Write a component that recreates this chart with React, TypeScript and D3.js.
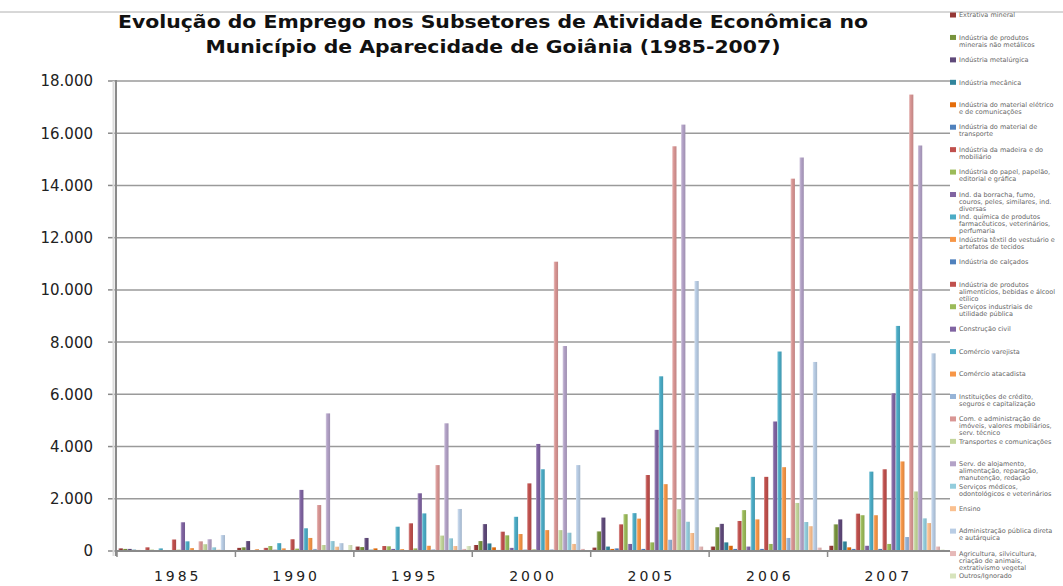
import React from "react";
import * as d3 from "d3";

// anos (categorias do eixo X)
const anos = ["1985", "1990", "1995", "2000", "2005", "2006", "2007"];

// subsetores IBGE (legenda, já quebrada em linhas)
const subsetores: string[][] = [
  ["Extrativa mineral"],
  ["Indústria de produtos", "minerais não metálicos"],
  ["Indústria metalúrgica"],
  ["Indústria mecânica"],
  ["Indústria do material elétrico", "e de comunicações"],
  ["Indústria do material de", "transporte"],
  ["Indústria da madeira e do", "mobiliário"],
  ["Indústria do papel, papelão,", "editorial e gráfica"],
  ["Ind. da borracha, fumo,", "couros, peles, similares, ind.", "diversas"],
  ["Ind. química de produtos", "farmacêuticos, veterinários,", "perfumaria"],
  ["Indústria têxtil do vestuário e", "artefatos de tecidos"],
  ["Indústria de calçados"],
  ["Indústria de produtos", "alimentícios, bebidas e álcool", "etílico"],
  ["Serviços industriais de", "utilidade pública"],
  ["Construção civil"],
  ["Comércio varejista"],
  ["Comércio atacadista"],
  ["Instituições de crédito,", "seguros e capitalização"],
  ["Com. e administração de", "imóveis, valores mobiliários,", "serv. técnico"],
  ["Transportes e comunicações"],
  ["Serv. de alojamento,", "alimentação, reparação,", "manutenção, redação"],
  ["Serviços médicos,", "odontológicos e veterinários"],
  ["Ensino"],
  ["Administração pública direta", "e autárquica"],
  ["Agricultura, silvicultura,", "criação de animais,", "extrativismo vegetal"],
  ["Outros/Ignorado"],
];

const cores = [
  "#953735", "#77933C", "#5F497A", "#31859C", "#E46C0A", "#4F81BD",
  "#C0504D", "#9BBB59", "#8064A2", "#4BACC6", "#F79646", "#4F81BD",
  "#C0504D", "#9BBB59", "#8064A2", "#4BACC6", "#F79646", "#95B3D7",
  "#D99694", "#C3D69B", "#B3A2C7", "#93CDDD", "#FAC090", "#B9CDE5",
  "#E6B9B8", "#D7E4BD",
];

// empregos por subsetor, um array por ano (mesma ordem da legenda)
const v1985 = [100, 80, 80, 50, 40, 30, 140, 50, 30, 100, 30, 30, 440, 50, 1100, 370, 110, 20, 370, 260, 450, 140, 50, 610, 20, 10];
const v1990 = [120, 140, 380, 30, 60, 30, 120, 190, 50, 300, 100, 30, 450, 90, 2340, 870, 500, 80, 1760, 230, 5270, 380, 165, 300, 30, 230];
const v1995 = [170, 150, 500, 50, 100, 30, 190, 180, 80, 930, 70, 30, 1060, 100, 2210, 1440, 200, 60, 3290, 590, 4890, 485, 190, 1610, 80, 190];
const v2000 = [230, 380, 1030, 290, 140, 40, 740, 600, 120, 1310, 650, 50, 2590, 60, 4100, 3130, 800, 60, 11080, 800, 7850, 700, 270, 3290, 80, 30];
const v2005 = [130, 750, 1280, 170, 80, 100, 1020, 1410, 270, 1450, 1240, 80, 2910, 330, 4640, 6690, 2560, 430, 15500, 1600, 16330, 1120, 690, 10340, 170, 40];
const v2006 = [170, 910, 1040, 330, 200, 80, 1150, 1565, 170, 2840, 1210, 80, 2840, 270, 4960, 7640, 3210, 500, 14260, 1840, 15070, 1110, 950, 7240, 130, 40];
const v2007 = [200, 1020, 1210, 365, 140, 80, 1430, 1370, 200, 3040, 1370, 80, 3130, 270, 6040, 8620, 3430, 535, 17480, 2280, 15530, 1250, 1070, 7570, 170, 50];

const valoresPorAno = [v1985, v1990, v1995, v2000, v2005, v2006, v2007];

const yTicks = d3.range(0, 18001, 2000);

const fmt = d3.formatLocale({
  decimal: ",",
  thousands: ".",
  grouping: [3],
  currency: ["R$", ""],
}).format(",d");

const FONTE = "'DejaVu Sans', Verdana, sans-serif";

export default function App() {
  const W = 1063;
  const H = 586;

  const x0 = d3.scaleBand<string>().domain(anos).range([117, 946]);
  const x1 = d3
    .scaleBand<number>()
    .domain(d3.range(subsetores.length))
    .range([0, x0.bandwidth()])
    .paddingInner(0.04)
    .paddingOuter(0.35);
  const y = d3.scaleLinear().domain([0, 18000]).range([551, 81]);

  const legendaY = d3
    .scaleLinear()
    .domain([0, subsetores.length - 1])
    .range([15, 576]);

  return (
    <svg
      width={W}
      height={H}
      style={{ position: "absolute", left: 0, top: 0, background: "#fff" }}
      fontFamily={FONTE}
    >
      <defs>
        {cores.map((c, i) => (
          <linearGradient key={i} id={`g${i}`} x1="0" x2="1" y1="0" y2="0">
            <stop offset="0%" stopColor={d3.interpolateRgb(c, "#fff")(0.4)} />
            <stop offset="35%" stopColor={c} />
            <stop offset="100%" stopColor={d3.color(c)!.darker(0.35).formatHex()} />
          </linearGradient>
        ))}
      </defs>

      {/* borda superior do gráfico */}
      <line x1={0} x2={W} y1={12} y2={12} stroke="#b0b0b0" strokeWidth={1} />

      {/* título */}
      <text
        x={493}
        y={28}
        textAnchor="middle"
        fontSize={17}
        fontWeight="bold"
        fill="#111"
        textLength={750}
        lengthAdjust="spacingAndGlyphs"
      >
        Evolução do Emprego nos Subsetores de Atividade Econômica no
      </text>
      <text
        x={493}
        y={53}
        textAnchor="middle"
        fontSize={17}
        fontWeight="bold"
        fill="#111"
        textLength={575}
        lengthAdjust="spacingAndGlyphs"
      >
        Município de Aparecidade de Goiânia (1985-2007)
      </text>

      {/* grade e eixo Y */}
      {yTicks.map((t) => (
        <g key={t}>
          <line x1={116} x2={950} y1={y(t)} y2={y(t)} stroke="#9a9a9a" strokeWidth={1.5} />
          <line x1={108} x2={116} y1={y(t)} y2={y(t)} stroke="#8a8a8a" strokeWidth={1.5} />
          <text x={93} y={y(t)} dy="0.36em" textAnchor="end" fontSize={15} fill="#222">
            {fmt(t)}
          </text>
        </g>
      ))}
      <line x1={116} x2={116} y1={y(18000) - 1} y2={556} stroke="#8a8a8a" strokeWidth={2} />
      <line x1={113.5} x2={113.5} y1={y(18000)} y2={556} stroke="#dcdcdc" strokeWidth={2} />

      {/* barras */}
      {anos.map((ano, a) => (
        <g key={ano} transform={`translate(${x0(ano)},0)`}>
          {valoresPorAno[a].map((v, i) => (
            <rect
              key={i}
              x={x1(i)}
              y={y(v)}
              width={x1.bandwidth()}
              height={y(0) - y(v)}
              fill={`url(#g${i})`}
            />
          ))}
        </g>
      ))}

      {/* eixo X */}
      <line x1={116} x2={950} y1={y(0)} y2={y(0)} stroke="#8a8a8a" strokeWidth={2} />
      {anos.map((ano) => (
        <line
          key={"t" + ano}
          x1={x0(ano)!}
          x2={x0(ano)!}
          y1={y(0)}
          y2={y(0) + 6}
          stroke="#8a8a8a"
          strokeWidth={1.5}
        />
      ))}
      {anos.map((ano) => (
        <text
          key={"l" + ano}
          x={x0(ano)! + x0.bandwidth() / 2 + 1.5}
          y={581}
          textAnchor="middle"
          fontSize={14}
          letterSpacing={3}
          fill="#222"
        >
          {ano}
        </text>
      ))}

      {/* legenda */}
      <rect x={950} y={13} width={W - 950} height={H - 13} fill="#fff" />
      {subsetores.map((linhas, i) => (
        <g key={i} transform={`translate(950,${legendaY(i)})`}>
          <rect x={0} y={-2.5} width={6} height={5} fill={cores[i]} />
          <text x={9} y={0} fontSize={6.5} fill="#666">
            {linhas.map((l, k) => (
              <tspan key={k} x={9} dy={k === 0 ? "0.35em" : 7}>
                {l}
              </tspan>
            ))}
          </text>
        </g>
      ))}
    </svg>
  );
}
